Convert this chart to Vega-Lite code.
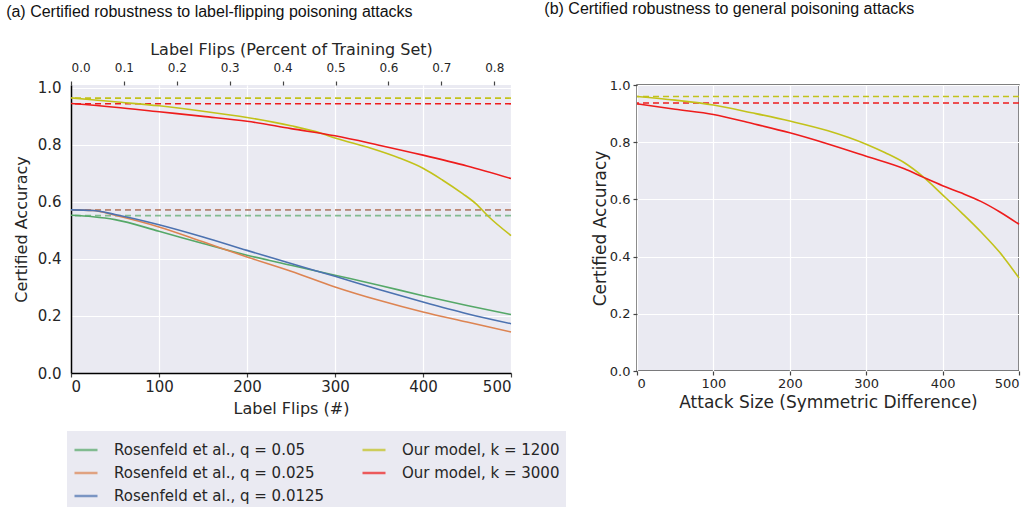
{
  "$schema": "https://vega.github.io/schema/vega-lite/v6.json",
  "padding": {"left": 6, "top": 0, "right": 0, "bottom": 0},
  "background": "white",
  "spacing": 28,
  "datasets": {
    "curves": [
      {"panel": "a", "series": "Our model, k = 1200", "x": 0, "acc": 0.965},
      {"panel": "a", "series": "Our model, k = 1200", "x": 50, "acc": 0.951},
      {"panel": "a", "series": "Our model, k = 1200", "x": 100, "acc": 0.937},
      {"panel": "a", "series": "Our model, k = 1200", "x": 150, "acc": 0.918},
      {"panel": "a", "series": "Our model, k = 1200", "x": 200, "acc": 0.896},
      {"panel": "a", "series": "Our model, k = 1200", "x": 250, "acc": 0.867},
      {"panel": "a", "series": "Our model, k = 1200", "x": 285, "acc": 0.840},
      {"panel": "a", "series": "Our model, k = 1200", "x": 300, "acc": 0.824},
      {"panel": "a", "series": "Our model, k = 1200", "x": 340, "acc": 0.789},
      {"panel": "a", "series": "Our model, k = 1200", "x": 373, "acc": 0.754},
      {"panel": "a", "series": "Our model, k = 1200", "x": 400, "acc": 0.718},
      {"panel": "a", "series": "Our model, k = 1200", "x": 422, "acc": 0.677},
      {"panel": "a", "series": "Our model, k = 1200", "x": 445, "acc": 0.629},
      {"panel": "a", "series": "Our model, k = 1200", "x": 460, "acc": 0.594},
      {"panel": "a", "series": "Our model, k = 1200", "x": 475, "acc": 0.547},
      {"panel": "a", "series": "Our model, k = 1200", "x": 500, "acc": 0.482},
      {"panel": "a", "series": "Our model, k = 3000", "x": 0, "acc": 0.945},
      {"panel": "a", "series": "Our model, k = 3000", "x": 50, "acc": 0.932},
      {"panel": "a", "series": "Our model, k = 3000", "x": 100, "acc": 0.916},
      {"panel": "a", "series": "Our model, k = 3000", "x": 150, "acc": 0.900},
      {"panel": "a", "series": "Our model, k = 3000", "x": 200, "acc": 0.883},
      {"panel": "a", "series": "Our model, k = 3000", "x": 250, "acc": 0.857},
      {"panel": "a", "series": "Our model, k = 3000", "x": 300, "acc": 0.832},
      {"panel": "a", "series": "Our model, k = 3000", "x": 350, "acc": 0.799},
      {"panel": "a", "series": "Our model, k = 3000", "x": 400, "acc": 0.764},
      {"panel": "a", "series": "Our model, k = 3000", "x": 450, "acc": 0.726},
      {"panel": "a", "series": "Our model, k = 3000", "x": 500, "acc": 0.682},
      {"panel": "a", "series": "Rosenfeld et al., q = 0.05", "x": 0, "acc": 0.553},
      {"panel": "a", "series": "Rosenfeld et al., q = 0.05", "x": 25, "acc": 0.548},
      {"panel": "a", "series": "Rosenfeld et al., q = 0.05", "x": 50, "acc": 0.538},
      {"panel": "a", "series": "Rosenfeld et al., q = 0.05", "x": 100, "acc": 0.497},
      {"panel": "a", "series": "Rosenfeld et al., q = 0.05", "x": 150, "acc": 0.454},
      {"panel": "a", "series": "Rosenfeld et al., q = 0.05", "x": 200, "acc": 0.413},
      {"panel": "a", "series": "Rosenfeld et al., q = 0.05", "x": 250, "acc": 0.378},
      {"panel": "a", "series": "Rosenfeld et al., q = 0.05", "x": 300, "acc": 0.343},
      {"panel": "a", "series": "Rosenfeld et al., q = 0.05", "x": 350, "acc": 0.308},
      {"panel": "a", "series": "Rosenfeld et al., q = 0.05", "x": 400, "acc": 0.271},
      {"panel": "a", "series": "Rosenfeld et al., q = 0.05", "x": 450, "acc": 0.237},
      {"panel": "a", "series": "Rosenfeld et al., q = 0.05", "x": 500, "acc": 0.205},
      {"panel": "a", "series": "Rosenfeld et al., q = 0.025", "x": 0, "acc": 0.572},
      {"panel": "a", "series": "Rosenfeld et al., q = 0.025", "x": 25, "acc": 0.570},
      {"panel": "a", "series": "Rosenfeld et al., q = 0.025", "x": 50, "acc": 0.553},
      {"panel": "a", "series": "Rosenfeld et al., q = 0.025", "x": 100, "acc": 0.512},
      {"panel": "a", "series": "Rosenfeld et al., q = 0.025", "x": 150, "acc": 0.460},
      {"panel": "a", "series": "Rosenfeld et al., q = 0.025", "x": 200, "acc": 0.407},
      {"panel": "a", "series": "Rosenfeld et al., q = 0.025", "x": 250, "acc": 0.357},
      {"panel": "a", "series": "Rosenfeld et al., q = 0.025", "x": 300, "acc": 0.302},
      {"panel": "a", "series": "Rosenfeld et al., q = 0.025", "x": 350, "acc": 0.255},
      {"panel": "a", "series": "Rosenfeld et al., q = 0.025", "x": 400, "acc": 0.214},
      {"panel": "a", "series": "Rosenfeld et al., q = 0.025", "x": 450, "acc": 0.179},
      {"panel": "a", "series": "Rosenfeld et al., q = 0.025", "x": 500, "acc": 0.144},
      {"panel": "a", "series": "Rosenfeld et al., q = 0.0125", "x": 0, "acc": 0.572},
      {"panel": "a", "series": "Rosenfeld et al., q = 0.0125", "x": 25, "acc": 0.570},
      {"panel": "a", "series": "Rosenfeld et al., q = 0.0125", "x": 50, "acc": 0.556},
      {"panel": "a", "series": "Rosenfeld et al., q = 0.0125", "x": 100, "acc": 0.520},
      {"panel": "a", "series": "Rosenfeld et al., q = 0.0125", "x": 150, "acc": 0.477},
      {"panel": "a", "series": "Rosenfeld et al., q = 0.0125", "x": 200, "acc": 0.430},
      {"panel": "a", "series": "Rosenfeld et al., q = 0.0125", "x": 250, "acc": 0.384},
      {"panel": "a", "series": "Rosenfeld et al., q = 0.0125", "x": 300, "acc": 0.339},
      {"panel": "a", "series": "Rosenfeld et al., q = 0.0125", "x": 350, "acc": 0.293},
      {"panel": "a", "series": "Rosenfeld et al., q = 0.0125", "x": 400, "acc": 0.249},
      {"panel": "a", "series": "Rosenfeld et al., q = 0.0125", "x": 450, "acc": 0.208},
      {"panel": "a", "series": "Rosenfeld et al., q = 0.0125", "x": 500, "acc": 0.173},
      {"panel": "b", "series": "Our model, k = 1200", "x": 0, "acc": 0.960},
      {"panel": "b", "series": "Our model, k = 1200", "x": 50, "acc": 0.947},
      {"panel": "b", "series": "Our model, k = 1200", "x": 100, "acc": 0.930},
      {"panel": "b", "series": "Our model, k = 1200", "x": 150, "acc": 0.903},
      {"panel": "b", "series": "Our model, k = 1200", "x": 200, "acc": 0.874},
      {"panel": "b", "series": "Our model, k = 1200", "x": 250, "acc": 0.840},
      {"panel": "b", "series": "Our model, k = 1200", "x": 300, "acc": 0.793},
      {"panel": "b", "series": "Our model, k = 1200", "x": 325, "acc": 0.763},
      {"panel": "b", "series": "Our model, k = 1200", "x": 350, "acc": 0.728},
      {"panel": "b", "series": "Our model, k = 1200", "x": 375, "acc": 0.678},
      {"panel": "b", "series": "Our model, k = 1200", "x": 400, "acc": 0.616},
      {"panel": "b", "series": "Our model, k = 1200", "x": 425, "acc": 0.553},
      {"panel": "b", "series": "Our model, k = 1200", "x": 450, "acc": 0.487},
      {"panel": "b", "series": "Our model, k = 1200", "x": 475, "acc": 0.414},
      {"panel": "b", "series": "Our model, k = 1200", "x": 500, "acc": 0.325},
      {"panel": "b", "series": "Our model, k = 3000", "x": 0, "acc": 0.934},
      {"panel": "b", "series": "Our model, k = 3000", "x": 50, "acc": 0.915},
      {"panel": "b", "series": "Our model, k = 3000", "x": 100, "acc": 0.897},
      {"panel": "b", "series": "Our model, k = 3000", "x": 150, "acc": 0.866},
      {"panel": "b", "series": "Our model, k = 3000", "x": 200, "acc": 0.833},
      {"panel": "b", "series": "Our model, k = 3000", "x": 250, "acc": 0.794},
      {"panel": "b", "series": "Our model, k = 3000", "x": 300, "acc": 0.751},
      {"panel": "b", "series": "Our model, k = 3000", "x": 350, "acc": 0.707},
      {"panel": "b", "series": "Our model, k = 3000", "x": 375, "acc": 0.677},
      {"panel": "b", "series": "Our model, k = 3000", "x": 400, "acc": 0.648},
      {"panel": "b", "series": "Our model, k = 3000", "x": 425, "acc": 0.622},
      {"panel": "b", "series": "Our model, k = 3000", "x": 450, "acc": 0.593},
      {"panel": "b", "series": "Our model, k = 3000", "x": 475, "acc": 0.556},
      {"panel": "b", "series": "Our model, k = 3000", "x": 500, "acc": 0.513}
    ],
    "baselines": [
      {"panel": "a", "group": "ours", "series": "Our model, k = 1200", "acc": 0.964},
      {"panel": "a", "group": "ours", "series": "Our model, k = 3000", "acc": 0.944},
      {"panel": "a", "group": "ros", "series": "Rosenfeld et al., q = 0.05", "acc": 0.552},
      {"panel": "a", "group": "ros", "series": "Rosenfeld et al., q = 0.0125", "acc": 0.572},
      {"panel": "a", "group": "ros", "series": "Rosenfeld et al., q = 0.025", "acc": 0.572},
      {"panel": "b", "group": "ours", "series": "Our model, k = 1200", "acc": 0.960},
      {"panel": "b", "group": "ours", "series": "Our model, k = 3000", "acc": 0.937}
    ],
    "pct": [{"p": 0}, {"p": 0.8317}]
  },
  "hconcat": [
    {
      "width": 440,
      "height": 288,
      "title": {"text": "(a) Certified robustness to label-flipping poisoning attacks", "anchor": "start", "frame": "bounds", "font": "Liberation Sans", "fontSize": 16, "fontWeight": "normal", "color": "#111", "offset": 21, "dx": -7},
      "view": {"fill": "#eaeaf2", "stroke": null},
      "layer": [
        {
          "data": {"name": "baselines"},
          "transform": [{"filter": "datum.panel == 'a' && datum.group == 'ros'"}],
          "mark": {"type": "rule", "strokeDash": [6, 4], "strokeWidth": 1.6, "opacity": 0.7},
          "encoding": {
            "y": {"field": "acc", "type": "quantitative", "scale": {"domain": [0, 1.01], "nice": false}},
            "color": {"field": "series", "type": "nominal",
              "scale": {"domain": ["Rosenfeld et al., q = 0.05", "Rosenfeld et al., q = 0.025", "Rosenfeld et al., q = 0.0125", "Our model, k = 1200", "Our model, k = 3000"],
                        "range": ["#55a868", "#dd8452", "#4c72b0", "#c2c21a", "#ee1c1c"]}}
          }
        },
        {
          "data": {"name": "baselines"},
          "transform": [{"filter": "datum.panel == 'a' && datum.group == 'ours'"}],
          "mark": {"type": "rule", "strokeDash": [6, 4], "strokeWidth": 1.6},
          "encoding": {
            "y": {"field": "acc", "type": "quantitative"},
            "color": {"field": "series", "type": "nominal"}
          }
        },
        {
          "data": {"name": "curves"},
          "transform": [{"filter": "datum.panel == 'a'"}],
          "mark": {"type": "line", "strokeWidth": 1.6, "interpolate": "monotone"},
          "encoding": {
            "x": {"field": "x", "type": "quantitative", "scale": {"domain": [0, 500], "nice": false},
              "axis": {"title": "Label Flips (#)", "values": [0, 100, 200, 300, 400, 500], "labelFontSize": 15, "titleFontSize": 16, "tickSize": 4, "labelPadding": 2, "titlePadding": 6, "domainColor": "black", "domainWidth": 1.5, "grid": true}},
            "y": {"field": "acc", "type": "quantitative", "scale": {"domain": [0, 1.01], "nice": false},
              "axis": {"title": "Certified Accuracy", "values": [0, 0.2, 0.4, 0.6, 0.8, 1.0], "format": ".1f", "labelFontSize": 15, "titleFontSize": 16, "ticks": false, "labelPadding": 10, "titlePadding": 8, "domainColor": "black", "domainWidth": 1.5, "grid": true}},
            "color": {"field": "series", "type": "nominal"}
          }
        },
        {
          "data": {"name": "pct"},
          "mark": {"type": "point", "opacity": 0},
          "encoding": {
            "x": {"field": "p", "type": "quantitative", "scale": {"domain": [0, 0.8317], "nice": false, "zero": false},
              "axis": {"orient": "top", "title": "Label Flips (Percent of Training Set)", "values": [0, 0.1, 0.2, 0.3, 0.4, 0.5, 0.6, 0.7, 0.8], "format": ".1f", "labelFontSize": 12, "titleFontSize": 16, "tickSize": 4, "labelPadding": 7, "titlePadding": 4, "domain": false, "grid": false}}
          }
        }
      ],
      "resolve": {"scale": {"x": "independent"}, "axis": {"x": "independent"}}
    },
    {
      "width": 382,
      "height": 286,
      "title": {"text": "(b) Certified robustness to general poisoning attacks", "anchor": "start", "frame": "bounds", "font": "Liberation Sans", "fontSize": 16, "fontWeight": "normal", "color": "#111", "offset": 62, "dx": -47},
      "view": {"fill": "#eaeaf2", "stroke": "#555", "strokeWidth": 1.5},
      "layer": [
        {
          "data": {"name": "baselines"},
          "transform": [{"filter": "datum.panel == 'b'"}],
          "mark": {"type": "rule", "strokeDash": [6, 4], "strokeWidth": 1.6},
          "encoding": {
            "y": {"field": "acc", "type": "quantitative", "scale": {"domain": [0, 1], "nice": false}},
            "color": {"field": "series", "type": "nominal"}
          }
        },
        {
          "data": {"name": "curves"},
          "transform": [{"filter": "datum.panel == 'b'"}],
          "mark": {"type": "line", "strokeWidth": 1.6, "interpolate": "monotone"},
          "encoding": {
            "x": {"field": "x", "type": "quantitative", "scale": {"domain": [0, 500], "nice": false},
              "axis": {"title": "Attack Size (Symmetric Difference)", "values": [0, 100, 200, 300, 400, 500], "labelFontSize": 13, "titleFontSize": 17, "tickSize": 4, "labelPadding": 2, "titlePadding": 4, "domain": false, "grid": true}},
            "y": {"field": "acc", "type": "quantitative", "scale": {"domain": [0, 1], "nice": false},
              "axis": {"title": "Certified Accuracy", "values": [0, 0.2, 0.4, 0.6, 0.8, 1.0], "format": ".1f", "labelFontSize": 13, "titleFontSize": 17, "tickSize": 4, "labelPadding": 3, "titlePadding": 0, "domain": false, "grid": true}},
            "color": {"field": "series", "type": "nominal"}
          }
        }
      ]
    }
  ],
  "resolve": {"scale": {"color": "shared"}},
  "config": {
    "font": "DejaVu Sans",
    "title": {"font": "Liberation Sans"},
    "axis": {"labelColor": "#262626", "titleColor": "#262626", "titleFontWeight": "normal", "gridColor": "white", "gridWidth": 1.2, "gridOpacity": 1, "tickColor": "#444", "tickWidth": 1.2},
    "legend": {
      "orient": "none",
      "legendX": -4,
      "legendY": 346,
      "columns": 2,
      "title": null,
      "symbolType": "stroke",
      "symbolSize": 529,
      "symbolStrokeWidth": 2.5,
      "labelFontSize": 15,
      "labelLimit": 400,
      "labelColor": "#262626",
      "labelOffset": 15,
      "fillColor": "#eaeaf2",
      "padding": 6,
      "rowPadding": 2,
      "columnPadding": 32
    }
  }
}
